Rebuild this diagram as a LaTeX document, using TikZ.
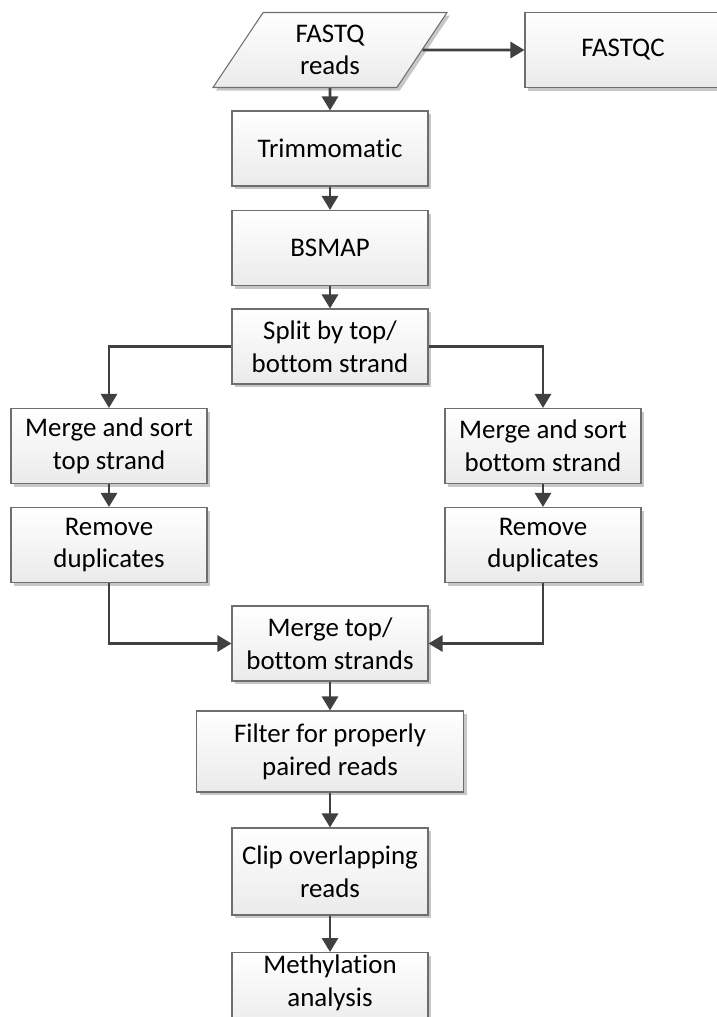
\documentclass[tikz,border=0pt]{standalone}
\usepackage{fontspec}
\setmainfont{Carlito}[Ligatures=NoCommon]
\usepackage{tikz}
\usetikzlibrary{shapes.geometric,arrows.meta,positioning,shadows}
\usepackage{xcolor}
\definecolor{edge}{HTML}{6E6E6E}
\definecolor{wire}{HTML}{404040}

\begin{document}
\begin{tikzpicture}[
    proc/.style={draw=edge, line width=0.6pt, minimum width=3.92cm, minimum height=1.5cm, align=center,
        font=\fontsize{15.3}{18.6}\selectfont, top color=white, bottom color=gray!16,
        drop shadow={shadow xshift=0.06cm, shadow yshift=-0.06cm, fill=black!22, opacity=1}},
    io/.style={proc, trapezium, trapezium left angle=64, trapezium right angle=116,
        trapezium stretches=true, minimum width=4.7cm},
    flow/.style={draw=wire, line width=1.6pt, -{Triangle[length=0.28cm, width=0.32cm]}}
]
    \useasboundingbox (0,0) rectangle (14.34,-20.34);

    \node[io] (fastq) at (6.6,-1.0) {FASTQ\\reads};
    \node[proc] (fastqc) at (12.46,-1.0) {FASTQC};
    \node[proc] (trim) at (6.6,-2.97) {Trimmomatic};
    \node[proc] (bsmap) at (6.6,-4.96) {BSMAP};
    \node[proc] (split) at (6.6,-6.93) {Split by top/\\bottom strand};
    \node[proc] (sorttop) at (2.18,-8.92) {Merge and sort\\top strand};
    \node[proc] (deduptop) at (2.18,-10.9) {Remove\\duplicates};
    \node[proc] (sortbot) at (10.86,-8.92) {Merge and sort\\bottom strand};
    \node[proc] (dedupbot) at (10.86,-10.9) {Remove\\duplicates};
    \node[proc] (mergeall) at (6.6,-12.87) {Merge top/\\bottom strands};
    \node[proc, minimum width=5.34cm, minimum height=1.62cm] (filter) at (6.6,-15.03) {Filter for properly\\paired reads};
    \node[proc, minimum height=1.74cm] (clip) at (6.6,-17.43) {Clip overlapping\\reads};
    \node[proc, anchor=north, inner ysep=0.05cm, text depth=0.45cm] (meth) at (6.6,-19.04) {Methylation\\analysis};

    \draw[flow] (fastq) -- (fastqc);
    \draw[flow] (fastq) -- (trim);
    \draw[flow] (trim) -- (bsmap);
    \draw[flow] (bsmap) -- (split);
    \draw[flow] (split.west) -| (sorttop);
    \draw[flow] (split.east) -| (sortbot);
    \draw[flow] (sorttop) -- (deduptop);
    \draw[flow] (sortbot) -- (dedupbot);
    \draw[flow] (deduptop) |- (mergeall);
    \draw[flow] (dedupbot) |- (mergeall);
    \draw[flow] (mergeall) -- (filter);
    \draw[flow] (filter) -- (clip);
    \draw[flow] (clip) -- (meth);
\end{tikzpicture}
\end{document}
